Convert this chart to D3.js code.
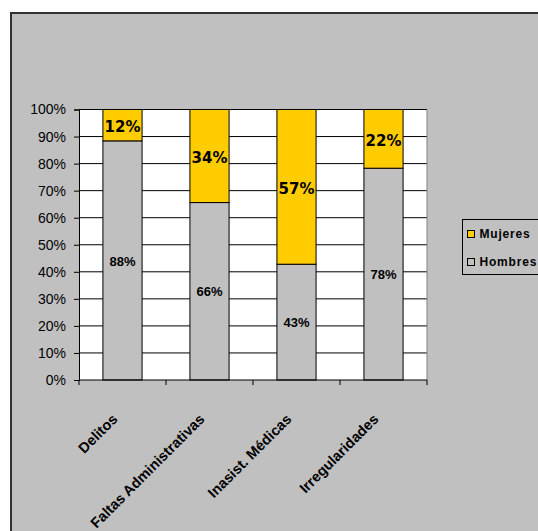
<!DOCTYPE html>
<html><head><meta charset="utf-8">
<script src="https://cdn.jsdelivr.net/npm/d3@7"></script>
<style>html,body{margin:0;padding:0;background:#fff;}svg{display:block;}</style>
</head><body>
<script>
const categories = ["Delitos", "Faltas Administrativas", "Inasist. Médicas", "Irregularidades"];
const hombres = [88.4, 65.6, 42.8, 78.3];
const mujeres = [11.6, 34.4, 57.2, 21.7];
const yTicks = [0, 10, 20, 30, 40, 50, 60, 70, 80, 90, 100];
const seriesNames = ["Mujeres", "Hombres"];

const W = 538, H = 531;
const svg = d3.select("body").append("svg").attr("width", W).attr("height", H);

// chart area background + border
svg.append("rect").attr("x", 11).attr("y", 13).attr("width", W + 10).attr("height", H + 10)
  .attr("fill", "#c0c0c0").attr("stroke", "#333").attr("stroke-width", 2);

const L = 79, R = 427, T = 109.5, B = 380;
const x = d3.scaleBand().domain(categories).range([L, R]).paddingInner(0.55).paddingOuter(0.275);
const xb = d3.scaleBand().domain(categories).range([L, R]);
const y = d3.scaleLinear().domain([0, 100]).range([B, T]);

// plot area
svg.append("rect").attr("x", L).attr("y", T).attr("width", R - L).attr("height", B - T).attr("fill", "#fff");

// gridlines
svg.append("g").selectAll("line").data(yTicks.filter(d => d > 0)).join("line")
  .attr("x1", L).attr("x2", R).attr("y1", d => y(d)).attr("y2", d => y(d))
  .attr("stroke", "#000").attr("stroke-width", 1);

// right edge of plot area
svg.append("line").attr("x1", R).attr("x2", R).attr("y1", T).attr("y2", B).attr("stroke", "#808080");

// stacked data
const data = categories.map((c, i) => ({ cat: c, Hombres: hombres[i], Mujeres: mujeres[i] }));
const stack = d3.stack().keys(["Hombres", "Mujeres"]);
const stacked = stack(data);
const colors = { Hombres: "#c0c0c0", Mujeres: "#ffcc00" };

stacked.forEach(s => {
  svg.append("g").selectAll("rect").data(s).join("rect")
    .attr("x", d => x(d.data.cat)).attr("width", x.bandwidth())
    .attr("y", d => y(d[1])).attr("height", d => y(d[0]) - y(d[1]))
    .attr("fill", colors[s.key]).attr("stroke", "#000").attr("stroke-width", 1);
});

// labels
stacked.forEach(s => {
  svg.append("g").selectAll("text").data(s).join("text")
    .attr("x", d => x(d.data.cat) + x.bandwidth() / 2)
    .attr("y", d => (y(d[0]) + y(d[1])) / 2 + (s.key === "Mujeres" ? 1.5 : 0.5))
    .attr("dy", "0.36em")
    .attr("text-anchor", "middle")
    .attr("font-family", s.key === "Mujeres" ? "DejaVu Sans" : "Liberation Sans, Arial")
    .attr("font-weight", "bold")
    .attr("font-size", s.key === "Mujeres" ? 15 : 13)
    .attr("fill", "#000")
    .text(d => Math.round(d.data[s.key]) + "%");
});

// y axis
const yAxis = d3.axisLeft(y).tickValues(yTicks).tickFormat(d => d + "%").tickSize(5).tickPadding(8);
const gy = svg.append("g").attr("transform", `translate(${L},0)`).call(yAxis);
gy.select(".domain").attr("stroke", "#000");
gy.selectAll(".tick line").attr("stroke", "#000");
gy.selectAll("text").attr("font-family", "Liberation Sans, Arial").attr("font-size", 14).attr("fill", "#000");

// x axis
const gx = svg.append("g").attr("transform", `translate(0,${B})`);
gx.append("line").attr("x1", L).attr("x2", R).attr("stroke", "#000");
gx.selectAll("line.t").data(d3.range(categories.length + 1)).join("line").attr("class", "t")
  .attr("x1", i => L + i * xb.bandwidth()).attr("x2", i => L + i * xb.bandwidth())
  .attr("y1", 0).attr("y2", 5).attr("stroke", "#000");
gx.selectAll("text").data(categories).join("text")
  .attr("transform", d => `translate(${xb(d) + xb.bandwidth() / 2 - 4},${40}) rotate(-45)`)
  .attr("text-anchor", "end")
  .attr("font-family", "Liberation Sans, Arial").attr("font-weight", "bold").attr("font-size", 14.5)
  .attr("fill", "#000")
  .text(d => d);

// legend
const lg = svg.append("g");
lg.append("rect").attr("x", 462.5).attr("y", 219.5).attr("width", 100).attr("height", 55)
  .attr("fill", "#c0c0c0").attr("stroke", "#000").attr("stroke-width", 1);
const items = lg.selectAll("g").data(seriesNames).join("g")
  .attr("transform", (d, i) => `translate(0,${i * 28})`);
items.append("rect").attr("x", 467.5).attr("y", 230.5).attr("width", 7).attr("height", 7)
  .attr("fill", d => colors[d]).attr("stroke", "#000");
items.append("text").attr("x", 479.5).attr("y", 237.5)
  .attr("font-family", "Liberation Sans, Arial").attr("font-weight", "bold").attr("font-size", 12)
  .attr("letter-spacing", 0.8).attr("fill", "#000").text(d => d);
</script>
</body></html>
